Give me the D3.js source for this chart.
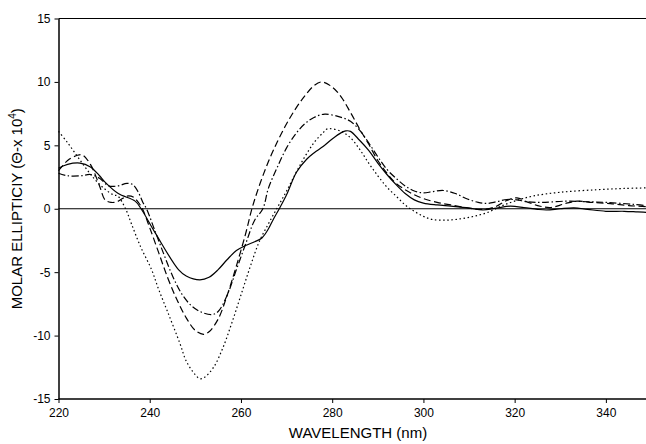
<!DOCTYPE html>
<html><head><meta charset="utf-8">
<script src="https://cdn.jsdelivr.net/npm/d3@7"></script>
<style>body{margin:0;background:#fff}svg{display:block}text{font-family:"Liberation Sans",Arial,sans-serif;fill:#000}</style>
</head><body><svg id="c" width="646" height="444"></svg>
<script>
const xTicks = [220,240,260,280,300,320,340];
const yTicks = [-15,-10,-5,0,5,10,15];
const xTitle = "WAVELENGTH (nm)";
const yTitle = "MOLAR ELLIPTICIY (Θ-x 10";

const solidX = [220,222,224.7,227,229,230.2,233.1,236.8,238.1,241.2,246.3,248,251,253,255,257,259,261,263,264.6,266,267,268.4,270,272.2,274.4,276,278,280,282,283,284,286,288,290,292,294,296,298,300,303,306,310,313,316,319,322,325,327,330,333,336,340,344,347,350];
const solidY = [3.2,3.5,3.6,3.3,2.6,2.1,1.2,0.6,0,-1.9,-4.8,-5.3,-5.6,-5.4,-4.8,-4.0,-3.3,-2.9,-2.6,-2.3,-1.6,-0.9,0,1.1,2.9,3.9,4.4,4.9,5.5,6.0,6.14,6.1,5.4,4.6,3.6,2.7,1.9,1.2,0.7,0.45,0.3,0.2,0.05,-0.1,0.05,0.2,0.1,-0.05,-0.1,0.0,0.07,-0.05,-0.2,-0.2,-0.25,-0.3];

const dashX = [220,222,224,225.2,227,229,230.2,231.5,232.8,234,235,236.5,237.5,238.4,240,242,244,246,248,250,251.8,253,255,257,259,261,262.4,264,266,268,270,272,274,276,277.7,280,282,284,286,288,290,292,294,296,298,300,303,306,310,313,316,318,320.5,323,325.6,328,331,333.7,337,341,345,350];
const dashY = [3.0,3.8,4.2,4.25,3.5,1.8,0.7,0.5,0.55,0.8,1.0,0.9,0.5,0,-1.5,-3.5,-5.5,-7.2,-8.6,-9.6,-9.9,-9.7,-8.7,-6.8,-4.5,-2.0,0,1.8,3.7,5.3,6.7,7.9,8.9,9.7,10.0,9.6,8.8,7.6,6.3,5.1,3.8,2.8,2.0,1.5,1.1,0.8,0.5,0.3,0.05,-0.05,0.2,0.6,0.86,0.5,0.2,0.1,0.4,0.6,0.5,0.4,0.25,0.15];

const dashDotX = [220,222,225,227,229,231,233,235,236.3,237.5,238.5,239.3,241,243,245,247,249,251,253.6,255,257,259,261,263,264.8,266,268,270,272,274,276,278.4,282,284,286,288,290,292,294,296,298,300,302,304.4,307,309.5,312,313.9,316,318.3,320.5,322.7,326,331.5,336,340,346,350];
const dashDotY = [2.8,2.6,2.6,2.7,2.4,1.8,1.8,2.0,1.9,1.3,0.5,0,-1.6,-3.5,-5.3,-6.7,-7.6,-8.1,-8.35,-8.1,-6.8,-4.8,-2.8,-0.9,0,1.6,3.3,4.8,5.9,6.7,7.2,7.46,7.2,6.9,6.2,5.2,4.1,3.1,2.4,1.8,1.4,1.25,1.35,1.44,1.2,0.79,0.5,0.42,0.55,0.73,0.7,0.55,0.5,0.6,0.55,0.5,0.35,0.2];

const dotX = [220,222,224,226,228,230,232,233,234.7,236,238,240.4,242,244,246.6,248,250,251,252,254,256,258,260,262,264,266,268,270,272,274,276,278,279,282,284,286,288,290,292,294,296,298,300,302,305,308,311,314,317,320,324,330,338,344,350];
const dotY = [6.1,5.2,4.2,3.2,2.3,1.6,1.1,1.0,0,-1.2,-3.0,-4.8,-6.4,-8.2,-10.6,-12.0,-13.1,-13.4,-13.3,-12.5,-11.0,-9.0,-6.8,-4.6,-2.6,-1.2,0.1,1.4,2.8,4.1,5.2,6.0,6.3,6.1,5.6,4.7,3.6,2.6,1.7,1.0,0.3,-0.2,-0.6,-0.85,-0.9,-0.8,-0.6,-0.3,0.2,0.6,1.0,1.3,1.5,1.6,1.65];

const series = [
  {xs: solidX, ys: solidY, dash: null},
  {xs: dashX, ys: dashY, dash: "7,3.5"},
  {xs: dashDotX, ys: dashDotY, dash: "7,2.5,1.5,2.5"},
  {xs: dotX, ys: dotY, dash: "1.5,2.6"}
];

const svg = d3.select("#c");
const x = d3.scaleLinear().domain([220,350]).range([58.5,651.5]);
const y = d3.scaleLinear().domain([-15,15]).range([399,18.5]);

svg.append("line").attr("x1",x(220)).attr("x2",646).attr("y1",y(15)).attr("y2",y(15))
  .attr("stroke","#000").attr("stroke-width",1.2);
svg.append("line").attr("x1",x(220)).attr("x2",646).attr("y1",y(0)).attr("y2",y(0))
  .attr("stroke","#000").attr("stroke-width",1.2);

const line = d3.line().x(d=>x(d[0])).y(d=>y(d[1])).curve(d3.curveCatmullRom.alpha(0.5));
series.forEach(s=>{
  const pts = s.xs.map((v,i)=>[v,s.ys[i]]);
  svg.append("path").attr("d",line(pts)).attr("fill","none").attr("stroke","#000")
    .attr("stroke-width",1.2).attr("stroke-dasharray",s.dash);
});

const fmt = d => String(d);
const gx = svg.append("g").attr("transform",`translate(0,${y(-15)})`)
  .call(d3.axisBottom(x).tickValues(xTicks).tickFormat(fmt).tickSize(4).tickPadding(5).tickSizeOuter(0));
const gy = svg.append("g").attr("transform",`translate(${x(220)},0)`)
  .call(d3.axisLeft(y).tickValues(yTicks).tickFormat(fmt).tickSize(4).tickPadding(4).tickSizeOuter(0));
[gx,gy].forEach(g=>{
  g.select(".domain").attr("stroke","#000").attr("stroke-width",1.5);
  g.selectAll(".tick line").attr("stroke","#000").attr("stroke-width",1);
  g.selectAll("text").attr("font-size",12).attr("font-family","Liberation Sans, Arial, sans-serif");
});
gx.select(".domain").attr("d",`M${x(220)},0H646`);

svg.append("text").attr("x",358).attr("y",438).attr("text-anchor","middle")
  .attr("font-size",15).text(xTitle);
const yt = svg.append("text").attr("transform",`translate(22,${y(0)}) rotate(-90)`)
  .attr("text-anchor","middle").attr("font-size",15);
yt.append("tspan").text(yTitle);
yt.append("tspan").attr("font-size",10).attr("dy",-6).text("4");
yt.append("tspan").attr("dy",6).text(")");
</script></body></html>
